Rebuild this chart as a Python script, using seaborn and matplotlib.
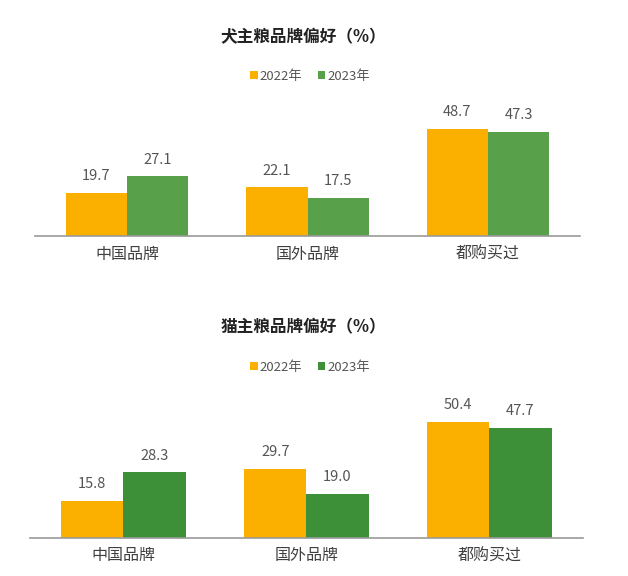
import matplotlib
matplotlib.use("Agg")
import matplotlib.pyplot as plt
import seaborn as sns
import pandas as pd

# data
categories = ["中国品牌", "国外品牌", "都购买过"]
years = ["2022年", "2023年"]
dog_2022 = [19.7, 22.1, 48.7]
dog_2023 = [27.1, 17.5, 47.3]
cat_2022 = [15.8, 29.7, 50.4]
cat_2023 = [28.3, 19.0, 47.7]

ORANGE = "#FBB000"
GREEN_TOP = "#58A04A"
GREEN_BOTTOM = "#3E9038"


def to_long(v22, v23):
    return pd.DataFrame({
        "cat": categories * 2,
        "year": [years[0]] * 3 + [years[1]] * 3,
        "value": list(v22) + list(v23),
    })


def draw_panel(fig, rect, df, green, title, title_y, legend_y):
    ax = fig.add_axes(rect)
    sns.barplot(data=df, x="cat", y="value", hue="year", order=categories,
                hue_order=years, palette=[ORANGE, green], width=0.68, gap=0,
                saturation=1, errorbar=None, linewidth=0, ax=ax)
    for cont in ax.containers:
        ax.bar_label(cont, fmt="%.1f", padding=7, fontsize=10.5, color="#555555")
    ax.set_xlim(-0.51, 2.51)
    ax.set_ylim(0, 60)
    ax.set_xlabel("")
    ax.set_ylabel("")
    ax.set_yticks([])
    for s in ["top", "right", "left"]:
        ax.spines[s].set_visible(False)
    ax.spines["bottom"].set_color("#9a9a9a")
    ax.spines["bottom"].set_linewidth(1.2)
    ax.tick_params(axis="x", length=0, pad=7, labelsize=11.5, labelcolor="#404040")
    sns.move_legend(ax, "center", bbox_to_anchor=(0.494, legend_y),
                    bbox_transform=fig.transFigure, ncol=2, frameon=False,
                    title=None, fontsize=9.5, handlelength=0.55, handleheight=0.55,
                    handletextpad=0.15, columnspacing=1.2, labelcolor="#555555")
    fig.text(0.4825, title_y, title, ha="center", va="center",
             fontsize=12, fontweight="bold", color="#222222")
    return ax


sns.set_theme(style="white")
plt.rcParams["font.family"] = ["Noto Sans CJK SC", "DejaVu Sans"]

fig = plt.figure(figsize=(6.28, 5.76), dpi=100)
fig.patch.set_facecolor("white")

draw_panel(fig, [0.0557, 0.5903, 0.868, 0.229], to_long(dog_2022, dog_2023),
           GREEN_TOP, "犬主粮品牌偏好（%）", 0.9358, 0.868)
draw_panel(fig, [0.0478, 0.0668, 0.880, 0.2396], to_long(cat_2022, cat_2023),
           GREEN_BOTTOM, "猫主粮品牌偏好（%）", 0.4323, 0.3628)

plt.savefig("out.png", dpi=100)
